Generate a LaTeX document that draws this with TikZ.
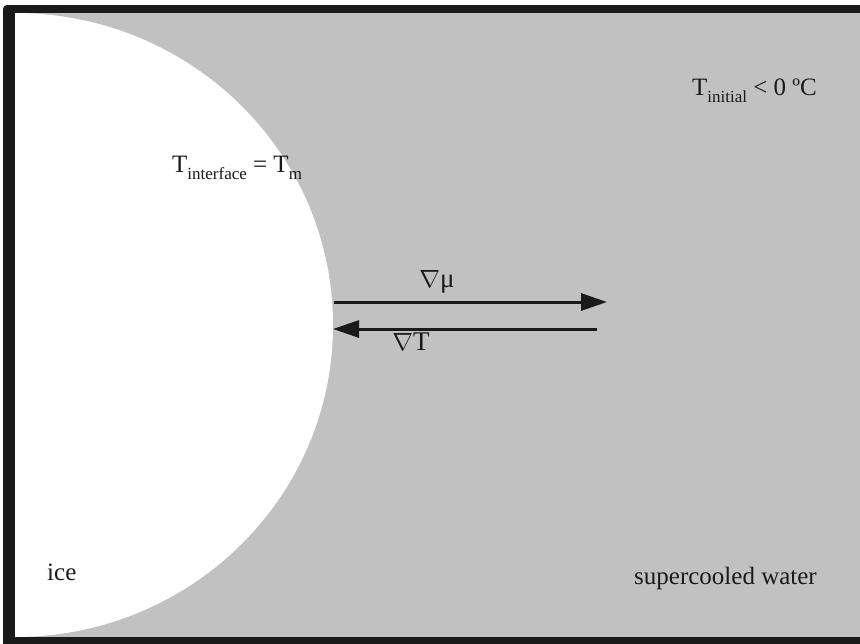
\documentclass[tikz,border=0pt]{standalone}
\usepackage{fontspec}
\setmainfont{Liberation Serif}
\usetikzlibrary{arrows.meta}
\definecolor{framegray}{RGB}{26,26,26}
\definecolor{watergray}{RGB}{193,193,193}
\tikzset{
  lbl/.style={font=\fontsize{25}{28}\selectfont, inner sep=0pt, text=framegray},
  grad/.style={-{Triangle[length=26pt, width=17pt]}, line width=3pt, color=framegray},
}
\newcommand{\lowtext}[1]{\raisebox{-7pt}{\fontsize{17}{17}\selectfont #1}}

\begin{document}
\begin{tikzpicture}[x=1pt, y=-1pt]
  \useasboundingbox (0,0) rectangle (860,643);

  %% frame and water
  \fill[framegray, rounded corners=4pt] (3,5) rectangle (880,660);
  \fill[watergray] (15,13) rectangle (860,637);

  %% ice
  \begin{scope}
    \clip (15,13) rectangle (860,637);
    \fill[white] (15,325) ellipse[x radius=318, y radius=312];
  \end{scope}

  %% labels
  \node[lbl, anchor=base east] (tinit) at (817,95)
    {T\lowtext{initial} < 0 ºC};
  \node[lbl, anchor=base west] (tface) at (172,172)
    {T\lowtext{interface} = T\lowtext{m}};
  \node[lbl, anchor=base west] (ice) at (47,580) {ice};
  \node[lbl, anchor=base east] (water) at (817,584) {supercooled water};

  %% gradients
  \coordinate (mufrom) at (334,302);
  \coordinate (muto)   at (607,302);
  \coordinate (tfrom)  at (597,329);
  \coordinate (tto)    at (333,329);
  \draw[grad] (mufrom) -- (muto);
  \draw[grad] (tfrom) -- (tto);
  \node[lbl, font=\fontsize{27}{30}\selectfont] (mu) at (437,282) {$\nabla$μ};
  \node[lbl, font=\fontsize{27}{30}\selectfont] (dt) at (411,342) {$\nabla$T};

\end{tikzpicture}
\end{document}
